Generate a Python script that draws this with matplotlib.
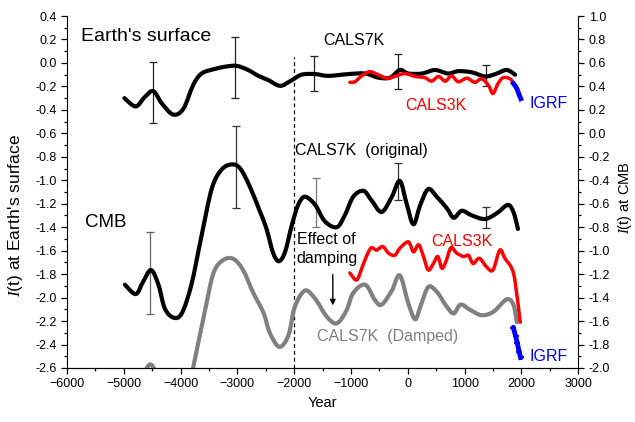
import numpy as np
import matplotlib
matplotlib.use('Agg')
import matplotlib.pyplot as plt
from matplotlib.ticker import MultipleLocator, FormatStrFormatter
from matplotlib.path import Path
from matplotlib.patches import PathPatch

plt.rcParams['font.family'] = ['Liberation Sans', 'DejaVu Sans']
plt.rcParams['mathtext.fontset'] = 'custom'
plt.rcParams['mathtext.it'] = 'Liberation Serif:italic'
plt.rcParams['mathtext.rm'] = 'Liberation Sans'

# --- CALS7K at Earth's surface (left axis units)
surf_year = [-4990, -4790, -4630, -4480, -4330, -4130, -3950, -3780, -3630, -3390,
             -3190, -3010, -2810, -2630, -2460, -2250, -2070, -1870, -1630, -1400,
             -1050, -750, -520, -310, -140, 10, 250, 480, 710, 890, 1130, 1360,
             1540, 1740, 1890]
surf_val = [-0.30, -0.37, -0.29, -0.24, -0.345, -0.44, -0.39, -0.19, -0.09, -0.05,
            -0.03, -0.025, -0.06, -0.11, -0.145, -0.195, -0.155, -0.10, -0.095, -0.11,
            -0.095, -0.09, -0.125, -0.125, -0.06, -0.09, -0.09, -0.06, -0.09, -0.07,
            -0.08, -0.115, -0.095, -0.06, -0.10]

# --- CALS3K at Earth's surface
c3s_year = [-1020, -930, -810, -670, -520, -370, -230, -50, 130, 300, 420, 540,
            660, 770, 890, 1040, 1180, 1300, 1420, 1500, 1590, 1680, 1800, 1860]
c3s_val = [-0.165, -0.16, -0.11, -0.075, -0.10, -0.13, -0.115, -0.09, -0.115, -0.125,
           -0.155, -0.115, -0.155, -0.11, -0.16, -0.13, -0.165, -0.135, -0.19, -0.26,
           -0.175, -0.125, -0.135, -0.175]

# --- IGRF at Earth's surface
igrf_s_year = [1860, 1900, 1930, 1960, 1990]
igrf_s_val = [-0.175, -0.20, -0.23, -0.27, -0.305]

# --- CALS7K at CMB, original (plotted in left axis units)
cmb_year = [-4980, -4790, -4660, -4520, -4390, -4280, -4130, -3980, -3810, -3630,
            -3450, -3280, -3100, -2950, -2780, -2600, -2490, -2370, -2270, -2160,
            -2040, -1930, -1810, -1630, -1460, -1250, -1110, -960, -780, -640,
            -460, -280, -140, -20, 100, 220, 360, 510, 690, 810, 950, 1130,
            1360, 1570, 1760, 1860, 1940]
cmb_val = [-1.89, -1.97, -1.865, -1.765, -1.89, -2.09, -2.17, -2.135, -1.89, -1.47,
           -1.07, -0.91, -0.865, -0.90, -1.055, -1.27, -1.41, -1.62, -1.69, -1.61,
           -1.38, -1.21, -1.14, -1.21, -1.35, -1.40, -1.30, -1.14, -1.09, -1.17,
           -1.27, -1.14, -1.005, -1.20, -1.375, -1.21, -1.075, -1.14, -1.24, -1.32,
           -1.26, -1.30, -1.33, -1.28, -1.21, -1.27, -1.415]

# --- CALS7K at CMB, damped
dmp_year = [-5000, -4800, -4540, -4350, -4100, -3950, -3850, -3750, -3570, -3420,
            -3250, -3070, -2900, -2720, -2540, -2430, -2260, -2100, -1990, -1810,
            -1630, -1430, -1250, -1080, -960, -750, -580, -460, -280, -140, 10,
            130, 220, 360, 510, 690, 810, 930, 1100, 1300, 1510, 1740, 1860, 1920]
dmp_val = [-2.75, -2.80, -2.57, -2.75, -2.95, -2.90, -2.75, -2.53, -2.11, -1.79,
           -1.68, -1.67, -1.765, -1.96, -2.13, -2.30, -2.42, -2.32, -2.08, -1.94,
           -2.01, -2.16, -2.22, -2.11, -1.96, -1.89, -2.02, -2.06, -1.94, -1.81, -2.05,
           -2.185, -2.08, -1.91, -1.95, -2.08, -2.135, -2.06, -2.105, -2.15, -2.12,
           -2.015, -2.06, -2.21]

# --- CALS3K at CMB
c3c_year = [-1020, -900, -810, -720, -640, -550, -440, -340, -230, -140, 10, 100,
            190, 270, 360, 450, 530, 600, 670, 760, 860, 980, 1070, 1150, 1260,
            1390, 1500, 1620, 1710, 1830, 1890, 1980]
c3c_val = [-1.79, -1.85, -1.75, -1.64, -1.575, -1.595, -1.565, -1.62, -1.64, -1.58,
           -1.525, -1.61, -1.55, -1.64, -1.765, -1.71, -1.65, -1.75, -1.695, -1.575,
           -1.62, -1.65, -1.64, -1.71, -1.665, -1.74, -1.765, -1.595, -1.665, -1.75,
           -1.865, -2.21]

# --- IGRF at CMB
igrf_c_year = [1860, 1900, 1930, 1960, 1985]
igrf_c_val = [-2.26, -2.33, -2.39, -2.46, -2.51]

# --- error bars
eb_s_year = [-4480, -3040, -1650, -180, 1370]
eb_s_val = [-0.25, -0.04, -0.09, -0.07, -0.11]
eb_s_err = [0.26, 0.26, 0.15, 0.15, 0.09]
eb_c_year = [-4540, -3025, -1620, -170, 1380]
eb_c_val = [-1.79, -0.89, -1.19, -1.01, -1.32]
eb_c_err = [0.35, 0.35, 0.21, 0.155, 0.09]
eb_c_col = ['#666666', '#333333', '#777777', '#333333', '#333333']


def spline_line(ax, xs, ys, color, lw, z):
    # draw a smooth (Catmull-Rom style) connection through the read points,
    # like Origin's "spline" line connection
    pts = np.column_stack([xs, ys]).astype(float)
    P = np.vstack([pts[0], pts, pts[-1]])
    verts = [pts[0]]
    codes = [Path.MOVETO]
    for i in range(1, len(P) - 2):
        p0, p1, p2, p3 = P[i - 1], P[i], P[i + 1], P[i + 2]
        verts += [p1 + (p2 - p0) / 6, p2 - (p3 - p1) / 6, p2]
        codes += [Path.CURVE4] * 3
    ax.add_patch(PathPatch(Path(verts, codes), fill=False, edgecolor=color, lw=lw,
                           capstyle='round', joinstyle='round', zorder=z))


fig = plt.figure(figsize=(6.35, 4.22), dpi=100)
ax = fig.add_axes([0.1055, 0.128, 0.805, 0.834])

ax.axvline(-2000, ymin=0, ymax=(0.05 + 2.6) / 3.0, color='black', ls=(0, (3, 2.5)), lw=0.9)

ax.errorbar(eb_s_year, eb_s_val, yerr=eb_s_err, fmt='none', ecolor='#222222',
            elinewidth=0.9, capsize=3, capthick=0.9, zorder=2)
for x, y, e, c in zip(eb_c_year, eb_c_val, eb_c_err, eb_c_col):
    ax.errorbar([x], [y], yerr=[e], fmt='none', ecolor=c, elinewidth=0.9,
                capsize=3, capthick=0.9, zorder=2)

spline_line(ax, surf_year, surf_val, 'black', 3, 3)
spline_line(ax, c3s_year, c3s_val, '#ff0000', 2.5, 4)
ax.plot(igrf_s_year, igrf_s_val, color='#0000ff', lw=3.5, zorder=5)
spline_line(ax, cmb_year, cmb_val, 'black', 3, 3)
spline_line(ax, dmp_year, dmp_val, '#808080', 3, 3)
spline_line(ax, c3c_year, c3c_val, '#ff0000', 2.5, 4)
ax.plot(igrf_c_year, igrf_c_val, color='#0000ff', lw=3.5, marker='+', ms=5,
        mew=1.5, zorder=5)

ax.annotate('', xy=(-1320, -2.09), xytext=(-1320, -1.78),
            arrowprops=dict(arrowstyle='-|>', color='black', lw=1, mutation_scale=8))

ax.text(-5760, 0.187, "Earth's surface", fontsize=14, va='baseline')
ax.text(-1487, 0.153, 'CALS7K', fontsize=11.5, va='baseline')
ax.text(-39, -0.40, 'CALS3K', fontsize=11.5, va='baseline', color='#ff0000')
ax.text(2139, -0.387, 'IGRF', fontsize=11.5, va='baseline', color='#0000ff')
ax.text(-1986, -0.785, 'CALS7K  (original)', fontsize=11.5, va='baseline')
ax.text(-5683, -1.396, 'CMB', fontsize=13.5, va='baseline')
ax.text(-1956, -1.544, 'Effect of', fontsize=11.5, va='baseline')
ax.text(-1956, -1.703, 'damping', fontsize=11.5, va='baseline')
ax.text(409, -1.558, 'CALS3K', fontsize=11.5, va='baseline', color='#ff0000')
ax.text(-1604, -2.368, 'CALS7K  (Damped)', fontsize=11.5, va='baseline', color='#808080')
ax.text(2139, -2.539, 'IGRF', fontsize=11.5, va='baseline', color='#0000ff')

ax.set_xlim(-6000, 3000)
ax.set_ylim(-2.6, 0.4)
ax.xaxis.set_major_locator(MultipleLocator(1000))
ax.xaxis.set_minor_locator(MultipleLocator(500))
ax.yaxis.set_major_locator(MultipleLocator(0.2))
ax.yaxis.set_minor_locator(MultipleLocator(0.1))
ax.yaxis.set_major_formatter(FormatStrFormatter('%.1f'))
ax.spines['top'].set_visible(False)
ax.spines['right'].set_visible(False)
ax.tick_params(which='major', direction='out', length=4, width=0.9, labelsize=9)
ax.tick_params(which='minor', direction='out', length=2.5, width=0.9)
ax.set_xlabel('Year', fontsize=10.5)
ax.set_ylabel("$I$(t) at Earth's surface", fontsize=12.5)
ax.yaxis.set_label_coords(-0.082, 0.432)

ax2 = ax.twinx()
ax2.set_ylim(-2.0, 1.0)
ax2.yaxis.set_major_locator(MultipleLocator(0.2))
ax2.yaxis.set_minor_locator(MultipleLocator(0.1))
ax2.yaxis.set_major_formatter(FormatStrFormatter('%.1f'))
ax2.spines['top'].set_visible(False)
ax2.spines['left'].set_visible(False)
ax2.tick_params(which='major', direction='out', length=4, width=0.9, labelsize=9)
ax2.tick_params(which='minor', direction='out', length=2.5, width=0.9)
ax2.set_ylabel('$I$(t) at CMB', fontsize=10.5)
ax2.yaxis.set_label_coords(1.074, 0.483)

fig.savefig('out.png', dpi=100)
